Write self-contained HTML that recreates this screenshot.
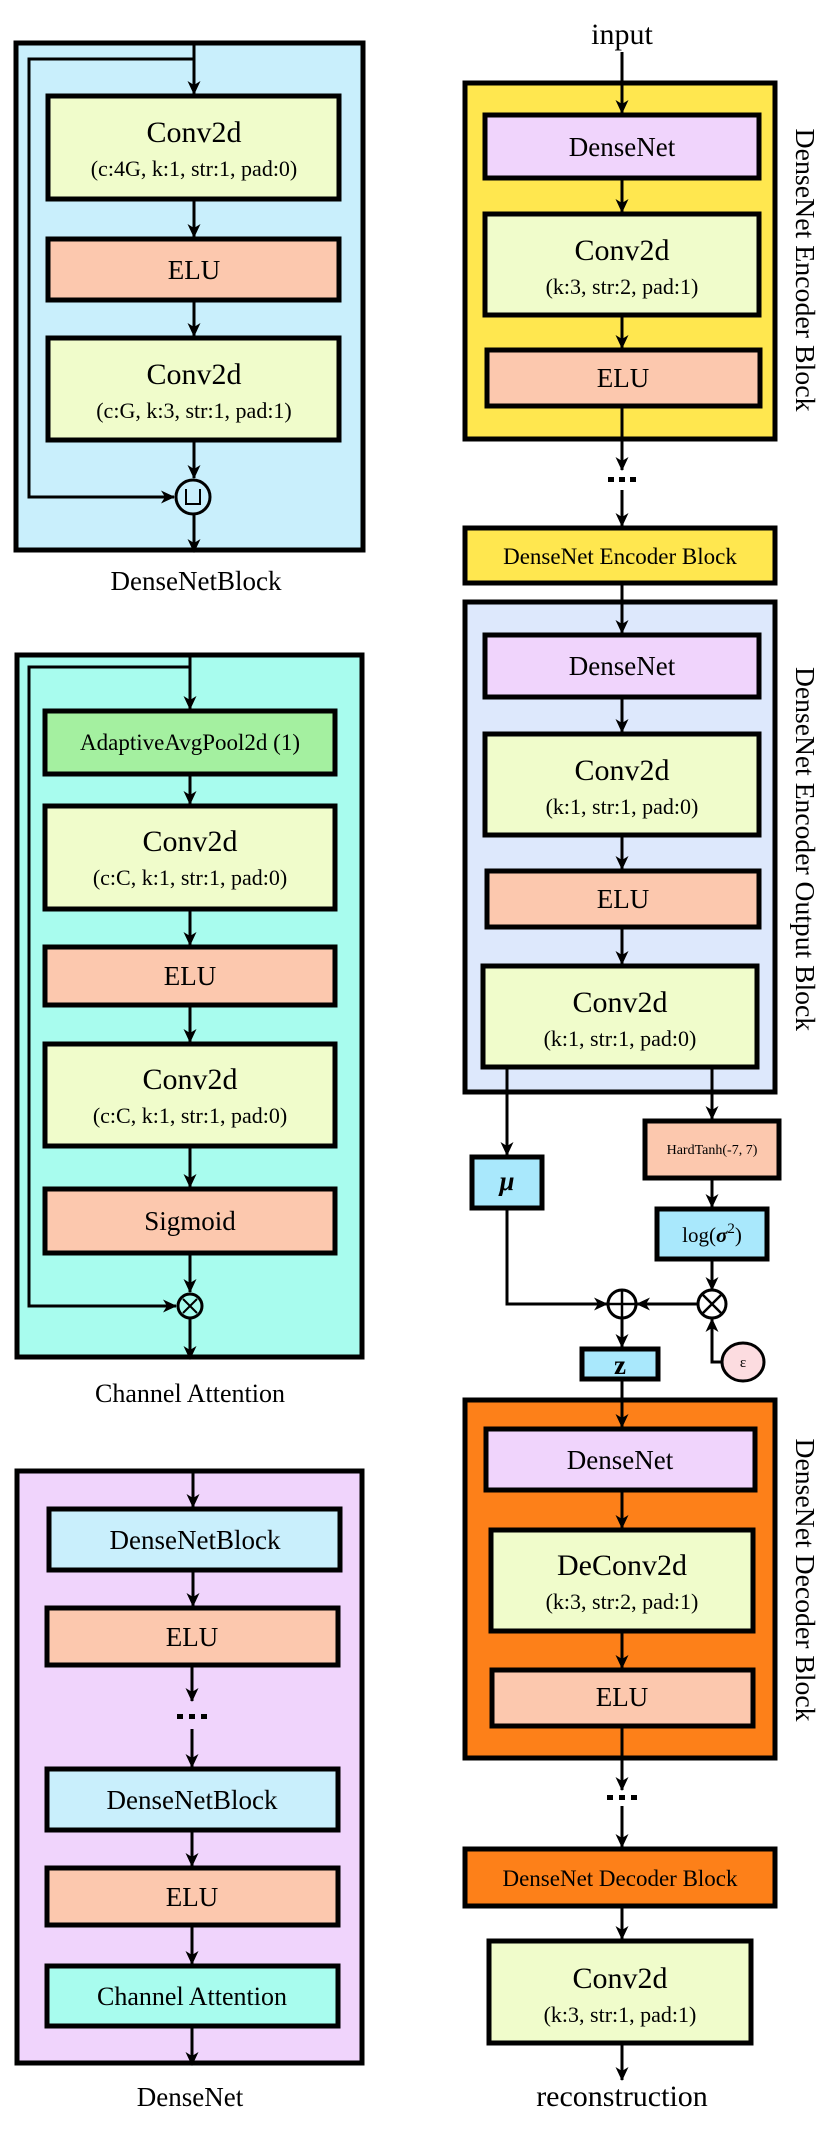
<!DOCTYPE html>
<html><head><meta charset="utf-8"><style>
html,body{margin:0;padding:0;background:#fff;}
svg{display:block;}
text{font-family:"Liberation Serif",serif;fill:#000;}
</style></head><body>
<svg width="829" height="2134" viewBox="0 0 829 2134" xmlns="http://www.w3.org/2000/svg">
<defs>
<marker id="a" markerWidth="16" markerHeight="16" refX="13" refY="7" orient="auto" markerUnits="userSpaceOnUse"><path d="M0,0.5 L14,7 L0,13.5 L4,7z" fill="#000"/></marker>
</defs>
<g stroke="#000" stroke-width="5">
<rect x="16" y="43" width="347" height="507" fill="#c9effc"/>
<rect x="48" y="96" width="291" height="103" fill="#f0fccb"/>
<rect x="48" y="239" width="291" height="61" fill="#fcc8ae"/>
<rect x="48" y="338" width="291" height="102" fill="#f0fccb"/>
<rect x="17" y="655" width="345" height="702" fill="#a8fcee"/>
<rect x="45" y="711" width="290" height="63" fill="#a4f0a0"/>
<rect x="45" y="806" width="290" height="103" fill="#f0fccb"/>
<rect x="45" y="947" width="290" height="58" fill="#fcc8ae"/>
<rect x="45" y="1044" width="290" height="102" fill="#f0fccb"/>
<rect x="45" y="1189" width="290" height="64" fill="#fcc8ae"/>
<rect x="17" y="1471" width="345" height="592" fill="#f0d4fc"/>
<rect x="49" y="1509" width="291" height="61" fill="#c9effc"/>
<rect x="47" y="1608" width="291" height="57" fill="#fcc8ae"/>
<rect x="47" y="1769" width="291" height="61" fill="#c9effc"/>
<rect x="47" y="1868" width="291" height="57" fill="#fcc8ae"/>
<rect x="47" y="1966" width="291" height="60" fill="#a8fcee"/>
<rect x="465" y="83" width="310" height="356" fill="#ffe74f"/>
<rect x="485" y="115" width="274" height="63" fill="#f0d4fc"/>
<rect x="485" y="214" width="274" height="101" fill="#f0fccb"/>
<rect x="487" y="350" width="273" height="56" fill="#fcc8ae"/>
<rect x="465" y="528" width="310" height="55" fill="#ffe74f"/>
<rect x="465" y="602" width="310" height="490" fill="#dde8fc"/>
<rect x="485" y="635" width="274" height="62" fill="#f0d4fc"/>
<rect x="485" y="734" width="274" height="101" fill="#f0fccb"/>
<rect x="487" y="871" width="272" height="56" fill="#fcc8ae"/>
<rect x="483" y="966" width="274" height="101" fill="#f0fccb"/>
<rect x="645" y="1121" width="134" height="57" fill="#fcc8ae"/>
<rect x="472" y="1157" width="70" height="51" fill="#a9e8fc"/>
<rect x="657" y="1209" width="110" height="50" fill="#a9e8fc"/>
<rect x="582" y="1349" width="76" height="30" fill="#a9e8fc"/>
<rect x="465" y="1400" width="310" height="358" fill="#fd8019"/>
<rect x="486" y="1429" width="269" height="61" fill="#f0d4fc"/>
<rect x="491" y="1530" width="262" height="101" fill="#f0fccb"/>
<rect x="492" y="1670" width="261" height="56" fill="#fcc8ae"/>
<rect x="465" y="1849" width="310" height="57" fill="#fd8019"/>
<rect x="489" y="1941" width="262" height="102" fill="#f0fccb"/>
</g>
<g stroke="#000" stroke-width="3" fill="none">
<circle cx="193" cy="497" r="17" fill="#c9effc"/>
<circle cx="190" cy="1306" r="12" fill="#a8fcee"/>
<circle cx="622" cy="1304" r="14"/>
<circle cx="712" cy="1304" r="14"/>
<ellipse cx="743" cy="1362" rx="21" ry="19" fill="#fcdce0"/>
<path d="M186,489 V504 H200 V489" stroke-width="2"/>
<path d="M183,1299 L197,1313 M197,1299 L183,1313" stroke-width="2"/>
<path d="M608,1304 H636 M622,1290 V1318" stroke-width="2.5"/>
<path d="M702,1294 L722,1314 M722,1294 L702,1314" stroke-width="2.5"/>
<g marker-end="url(#a)">
<path d="M194,41 V94"/>
<path d="M194,59 H29 V497 H174"/>
<path d="M194,200 V237"/>
<path d="M194,301 V336"/>
<path d="M194,441 V478"/>
<path d="M194,514 V552"/>
<path d="M190,653 V709"/>
<path d="M190,667 H29 V1306 H176"/>
<path d="M190,775 V804"/>
<path d="M190,910 V945"/>
<path d="M190,1006 V1042"/>
<path d="M190,1147 V1187"/>
<path d="M190,1254 V1292"/>
<path d="M190,1318 V1359"/>
<path d="M193,1469 V1507"/>
<path d="M193,1571 V1606"/>
<path d="M192,1666 V1701"/>
<path d="M192,1729 V1767"/>
<path d="M192,1831 V1866"/>
<path d="M192,1926 V1964"/>
<path d="M192,2027 V2065"/>
<path d="M622,52 V113"/>
<path d="M622,179 V212"/>
<path d="M622,316 V348"/>
<path d="M622,407 V470"/>
<path d="M622,490 V526"/>
<path d="M622,584 V633"/>
<path d="M622,698 V732"/>
<path d="M622,836 V869"/>
<path d="M622,928 V964"/>
<path d="M507,1068 V1155"/>
<path d="M712,1068 V1119"/>
<path d="M712,1179 V1207"/>
<path d="M712,1260 V1290"/>
<path d="M698,1304 H637"/>
<path d="M507,1209 V1304 H607"/>
<path d="M622,1318 V1347"/>
<path d="M722,1362 H712 V1319"/>
<path d="M622,1380 V1427"/>
<path d="M622,1491 V1528"/>
<path d="M622,1632 V1668"/>
<path d="M622,1727 V1790"/>
<path d="M622,1806 V1847"/>
<path d="M622,1907 V1939"/>
<path d="M622,2044 V2080"/>
</g>
</g>
<g fill="#000">
<rect x="608" y="477" width="6" height="5"/><rect x="619" y="477" width="6" height="5"/><rect x="630" y="477" width="6" height="5"/>
<rect x="607" y="1795" width="6" height="5"/><rect x="619" y="1795" width="6" height="5"/><rect x="631" y="1795" width="6" height="5"/>
<rect x="177" y="1714" width="6" height="5"/><rect x="189" y="1714" width="6" height="5"/><rect x="201" y="1714" width="6" height="5"/>
</g>
<g text-anchor="middle">
<text x="194" y="142" font-size="30">Conv2d</text>
<text x="194" y="176" font-size="22">(c:4G, k:1, str:1, pad:0)</text>
<text x="194" y="279" font-size="27">ELU</text>
<text x="194" y="384" font-size="30">Conv2d</text>
<text x="194" y="418" font-size="22">(c:G, k:3, str:1, pad:1)</text>
<text x="196" y="590" font-size="27">DenseNetBlock</text>
<text x="190" y="750" font-size="23">AdaptiveAvgPool2d (1)</text>
<text x="190" y="851" font-size="30">Conv2d</text>
<text x="190" y="885" font-size="22">(c:C, k:1, str:1, pad:0)</text>
<text x="190" y="985" font-size="27">ELU</text>
<text x="190" y="1089" font-size="30">Conv2d</text>
<text x="190" y="1123" font-size="22">(c:C, k:1, str:1, pad:0)</text>
<text x="190" y="1230" font-size="27">Sigmoid</text>
<text x="190" y="1402" font-size="26">Channel Attention</text>
<text x="195" y="1549" font-size="27">DenseNetBlock</text>
<text x="192" y="1646" font-size="27">ELU</text>
<text x="192" y="1809" font-size="27">DenseNetBlock</text>
<text x="192" y="1906" font-size="27">ELU</text>
<text x="192" y="2005" font-size="26">Channel Attention</text>
<text x="190" y="2106" font-size="27">DenseNet</text>
<text x="622" y="44" font-size="30">input</text>
<text x="622" y="156" font-size="27">DenseNet</text>
<text x="622" y="260" font-size="30">Conv2d</text>
<text x="622" y="294" font-size="22">(k:3, str:2, pad:1)</text>
<text x="623" y="387" font-size="27">ELU</text>
<text x="620" y="564" font-size="23">DenseNet Encoder Block</text>
<text x="622" y="675" font-size="27">DenseNet</text>
<text x="622" y="780" font-size="30">Conv2d</text>
<text x="622" y="814" font-size="22">(k:1, str:1, pad:0)</text>
<text x="623" y="908" font-size="27">ELU</text>
<text x="620" y="1012" font-size="30">Conv2d</text>
<text x="620" y="1046" font-size="22">(k:1, str:1, pad:0)</text>
<text x="712" y="1154" font-size="14">HardTanh(-7, 7)</text>
<text x="507" y="1190" font-size="27" font-weight="bold" font-style="italic">μ</text>
<text x="712" y="1242" font-size="21">log(<tspan font-weight="bold" font-style="italic">σ</tspan><tspan font-size="15" dy="-9">2</tspan><tspan dy="9">)</tspan></text>
<text x="620" y="1374" font-size="27" font-weight="bold">z</text>
<text x="743" y="1367" font-size="15">ε</text>
<text x="620" y="1469" font-size="27">DenseNet</text>
<text x="622" y="1575" font-size="30">DeConv2d</text>
<text x="622" y="1609" font-size="22">(k:3, str:2, pad:1)</text>
<text x="622" y="1706" font-size="27">ELU</text>
<text x="620" y="1886" font-size="23">DenseNet Decoder Block</text>
<text x="620" y="1988" font-size="30">Conv2d</text>
<text x="620" y="2022" font-size="22">(k:3, str:1, pad:1)</text>
<text x="622" y="2106" font-size="30">reconstruction</text>
<text transform="translate(796,270) rotate(90)" font-size="27" textLength="283" lengthAdjust="spacingAndGlyphs">DenseNet Encoder Block</text>
<text transform="translate(796,849) rotate(90)" font-size="27" textLength="364" lengthAdjust="spacingAndGlyphs">DenseNet Encoder Output Block</text>
<text transform="translate(796,1580) rotate(90)" font-size="27" textLength="283" lengthAdjust="spacingAndGlyphs">DenseNet Decoder Block</text>
</g>
</svg>
</body></html>
